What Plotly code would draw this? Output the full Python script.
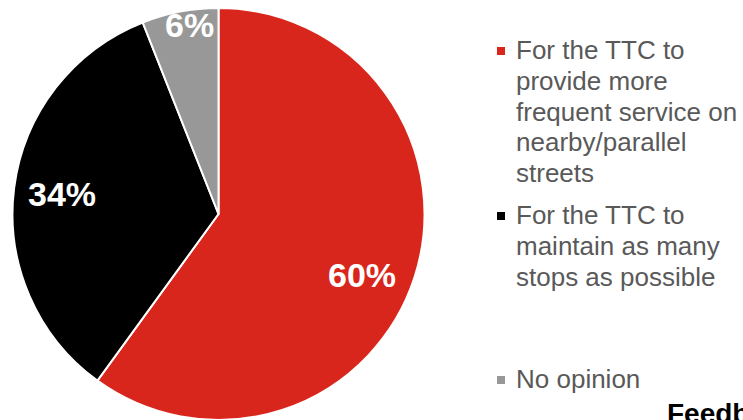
import math
import plotly.graph_objects as go

# Survey responses (share of respondents, %)
categories = [
    "For the TTC to<br>provide more<br>frequent service on<br>nearby/parallel<br>streets",
    "For the TTC to<br>maintain as many<br>stops as possible",
    "No opinion",
]
values = [60, 34, 6]
slice_colors = ["#D9261C", "#000000", "#989898"]

W, H = 743, 420
FONT = "Arial, Liberation Sans, sans-serif"

# Pie geometry in pixels
cx, cy, r = 218.5, 214.0, 206.0


def px(x):
    return x / W


def py(y):
    return 1 - y / H


fig = go.Figure(
    go.Pie(
        labels=[c.replace("<br>", " ") for c in categories],
        values=values,
        marker=dict(colors=slice_colors, line=dict(color="#FFFFFF", width=2)),
        sort=False,
        direction="clockwise",
        rotation=0,
        textinfo="none",
        hoverinfo="label+percent",
        showlegend=False,
        domain=dict(x=[px(cx - r), px(cx + r)], y=[py(cy + r), py(cy - r)]),
    )
)

annotations = []
shapes = []

# Percentage labels placed along each slice's mid-angle
label_radius = [0.757, 0.765, 0.93]
label_nudge = [5.0, 0.0, 2.0]
total = sum(values)
cum = 0
for v, rf, nudge in zip(values, label_radius, label_nudge):
    mid = (cum + v / 2) / total * 360 + nudge
    cum += v
    a = math.radians(mid)
    lx = cx + rf * r * math.sin(a)
    ly = cy - rf * r * math.cos(a)
    annotations.append(dict(
        x=px(lx), y=py(ly), xref="paper", yref="paper",
        xanchor="center", yanchor="middle", showarrow=False,
        text=f"<b>{v}%</b>",
        font=dict(family=FONT, size=34, color="#FFFFFF"),
    ))

# Legend: square marker plus wrapped label lines
item_top = [50, 215, 379]
line_pitch = 30.8
for label, color, y0 in zip(categories, slice_colors, item_top):
    shapes.append(dict(
        type="rect", xref="paper", yref="paper",
        x0=px(497), x1=px(505), y0=py(y0 + 5), y1=py(y0 - 3),
        fillcolor=color, line=dict(width=0),
    ))
    for i, line in enumerate(label.split("<br>")):
        annotations.append(dict(
            x=px(514), y=py(y0 + i * line_pitch), xref="paper", yref="paper",
            xanchor="left", yanchor="middle", showarrow=False,
            text=line,
            font=dict(family=FONT, size=26, color="#595959"),
        ))

# Heading at the lower right
annotations.append(dict(
    x=px(665), y=py(413), xref="paper", yref="paper",
    xanchor="left", yanchor="middle", showarrow=False,
    text="<b>Feedback</b>",
    font=dict(family=FONT, size=28, color="#000000"),
))

fig.update_layout(
    width=W, height=H,
    margin=dict(l=0, r=0, t=0, b=0),
    paper_bgcolor="#FFFFFF",
    plot_bgcolor="#FFFFFF",
    annotations=annotations,
    shapes=shapes,
)

fig.write_html("out.html", config={"displayModeBar": False})
